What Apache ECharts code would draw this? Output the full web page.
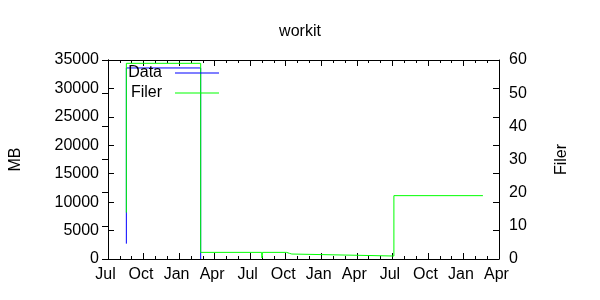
<!DOCTYPE html>
<html>
<head>
<meta charset="utf-8">
<script src="https://cdn.jsdelivr.net/npm/echarts@6/dist/echarts.min.js"></script>
<style>html,body{margin:0;padding:0;background:#fff}#c{width:600px;height:300px}</style>
</head>
<body>
<div id="c"></div>
<script>
// ---- data ----
const titleText = 'workit';
const seriesNames = ['Data', 'Filer'];
const leftAxisName = 'MB';
const rightAxisName = 'Filer';
const xStart = '2006-07-01';
const xEnd = '2009-04-01';
const xTickLabels = ['Jul', 'Oct', 'Jan', 'Apr', 'Jul', 'Oct', 'Jan', 'Apr', 'Jul', 'Oct', 'Jan', 'Apr'];
const dataDates = ['2006-08-18', '2006-08-18', '2007-02-24', '2007-02-24'];
const dataValues = [2700, 33600, 33600, 0];
const filerDates = ['2006-08-18', '2006-08-18', '2007-02-24', '2007-02-24', '2007-07-31', '2007-08-01', '2007-08-02',
  '2007-10-03', '2007-10-06', '2007-10-11', '2007-10-13', '2007-10-17', '2007-10-19', '2008-07-05', '2008-07-05', '2009-02-19'];
const filerValues = [14, 59, 59, 2, 2, 0.3, 2, 2, 1.8, 1.7, 1.5, 1.5, 0.9, 0.9, 19.1, 19.1];

// ---- helpers ----
const [sY, sM] = xStart.split('-').map(Number);
function monthIndex(s) {
  const [y, m, d] = s.split('-').map(Number);
  const dim = new Date(y, m, 0).getDate();
  return (y - sY) * 12 + (m - sM) + (d - 1) / dim;
}
const xMin = monthIndex(xStart), xMax = monthIndex(xEnd);
const font = 'Liberation Sans';
const fs = 16;

const chart = echarts.init(document.getElementById('c'), null, { renderer: 'canvas' });
const xCommon = {
  type: 'value', min: xMin, max: xMax, interval: 3,
  axisLine: { show: true, onZero: false, lineStyle: { color: '#000', width: 1 } },
  axisTick: { show: true, inside: true, length: 6, lineStyle: { color: '#000' } },
  minorTick: { show: true, splitNumber: 3, length: 3, lineStyle: { color: '#000' } },
  splitLine: { show: false }
};
const option = {
  animation: false,
  backgroundColor: '#fff',
  textStyle: { fontFamily: font },
  title: { text: titleText, left: 'center', top: 24, padding: 0,
    textStyle: { fontFamily: font, fontSize: fs, fontWeight: 'normal', color: '#000' } },
  grid: { left: 106, right: 101, top: 60, bottom: 41, containLabel: false },
  legend: [
    { data: [seriesNames[0]], right: 381, top: 64.5, padding: 0, align: 'right', icon: 'rect',
      itemWidth: 44, itemHeight: 1,
      textStyle: { fontFamily: font, fontSize: fs, color: '#000', lineHeight: 17, padding: [0, 8, 0, 0] } },
    { data: [seriesNames[1]], right: 381, top: 84.5, padding: 0, align: 'right', icon: 'rect',
      itemWidth: 44, itemHeight: 1,
      textStyle: { fontFamily: font, fontSize: fs, color: '#000', lineHeight: 17, padding: [0, 8, 0, 0] } }
  ],
  xAxis: [
    Object.assign({}, xCommon, { position: 'bottom',
      axisLabel: { show: true, margin: 8, color: '#000', fontFamily: font, fontSize: fs,
        padding: [0, 5, 0, 0], showMinLabel: true, showMaxLabel: true,
        formatter: v => xTickLabels[Math.round((v - xMin) / 3)] || '' } }),
    Object.assign({}, xCommon, { position: 'top', axisLabel: { show: false } })
  ],
  yAxis: [
    { type: 'value', position: 'left', min: 0, max: 35000, interval: 5000,
      name: leftAxisName, nameLocation: 'middle', nameGap: 84, nameRotate: 90,
      nameTextStyle: { fontFamily: font, fontSize: fs, color: '#000' },
      axisLine: { show: true, lineStyle: { color: '#000' } },
      axisTick: { show: true, inside: true, length: 6, lineStyle: { color: '#000' } },
      axisLabel: { color: '#000', fontFamily: font, fontSize: fs, margin: 9, formatter: v => String(v) },
      splitLine: { show: false } },
    { type: 'value', position: 'right', min: 0, max: 60, interval: 10,
      name: rightAxisName, nameLocation: 'middle', nameGap: 55, nameRotate: 90,
      nameTextStyle: { fontFamily: font, fontSize: fs, color: '#000' },
      axisLine: { show: true, lineStyle: { color: '#000' } },
      axisTick: { show: true, inside: true, length: 6, lineStyle: { color: '#000' } },
      axisLabel: { color: '#000', fontFamily: font, fontSize: fs, margin: 10, formatter: v => String(v) },
      splitLine: { show: false } },
    { type: 'value', position: 'right', min: 0, max: 35000, interval: 5000,
      axisLine: { show: true, lineStyle: { color: '#000' } },
      axisTick: { show: true, inside: true, length: 6, lineStyle: { color: '#000' } },
      axisLabel: { show: false }, splitLine: { show: false } }
  ],
  series: [
    { name: seriesNames[0], type: 'line', xAxisIndex: 0, yAxisIndex: 0, symbol: 'none',
      color: '#0000ff', lineStyle: { width: 1, color: '#0000ff' },
      data: dataDates.map((d, i) => [monthIndex(d), dataValues[i]]) },
    { name: seriesNames[1], type: 'line', xAxisIndex: 0, yAxisIndex: 1, symbol: 'none',
      color: '#00ff00', lineStyle: { width: 1, color: '#00ff00' },
      data: filerDates.map((d, i) => [monthIndex(d), filerValues[i]]) }
  ]
};
chart.setOption(option);
</script>
</body>
</html>
